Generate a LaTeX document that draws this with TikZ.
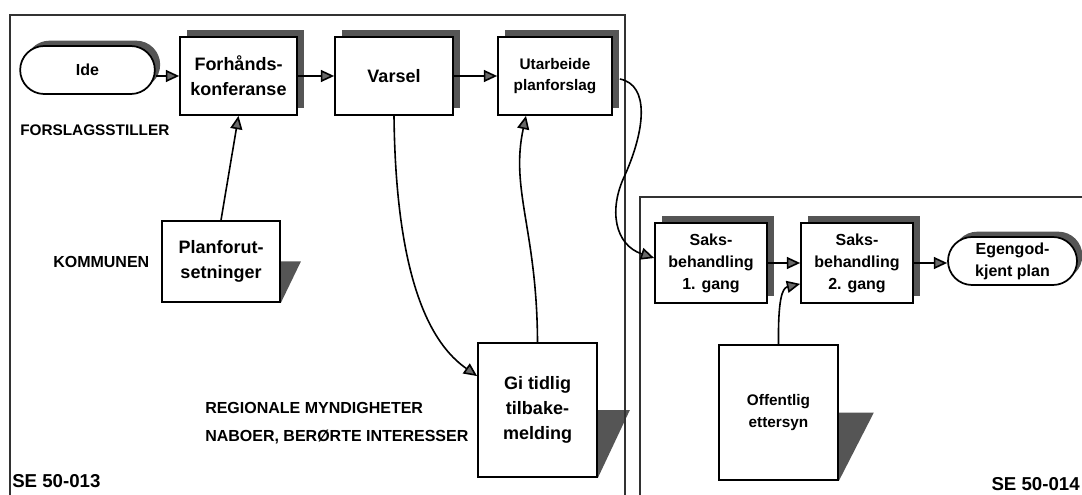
\documentclass[tikz,border=0pt]{standalone}
\usepackage{fontspec}
\setmainfont{Liberation Sans}
\usetikzlibrary{calc,shapes.misc,shadows,arrows.meta,backgrounds}
\definecolor{Shade}{RGB}{85,85,85}
\definecolor{TipGray}{RGB}{105,105,105}
\definecolor{Frame}{RGB}{50,50,50}
\newcommand{\bigtxt}{\fontsize{13.5}{18.5}\selectfont}
\newcommand{\midtxt}{\fontsize{12}{16.5}\selectfont}
\newcommand{\smalltxt}{\fontsize{11.5}{16}\selectfont}

\begin{document}
\begin{tikzpicture}[x=0.75pt,y=-0.75pt]
	\tikzstyle{every node}=[font=\bfseries, align=center, inner sep=0pt]
	\tikzstyle{procbox}=[draw, line width=1.3pt, fill=white, shape=rectangle, general shadow={fill=Shade, shadow xshift=5pt, shadow yshift=5pt}]
	\tikzstyle{docbox}=[draw, line width=1.3pt, fill=white, shape=rectangle]
	\tikzstyle{termbox}=[draw, line width=1.3pt, fill=white, shape=rounded rectangle, general shadow={fill=Shade, shadow xshift=4pt, shadow yshift=4pt}]
	\tikzstyle{fold}=[fill=Shade]
	\tikzstyle{flow}=[line width=1.2pt, -{Triangle[length=10pt, width=9pt, fill=TipGray]}]
	\tikzstyle{rolename}=[anchor=west, font=\bfseries\midtxt]
	\useasboundingbox (0,0) rectangle (1082,495);
	% frames
	\draw[Frame, line width=0.8pt] (10,15) rectangle (625,505);
	\draw[Frame, line width=0.8pt] (640,197) rectangle (1095,505);
	% forslagsstiller
	\node[termbox, minimum width=101pt, minimum height=36pt, font=\bfseries\midtxt] (ide) at (87.5,70) {Ide};
	\node[procbox, minimum width=87.75pt, minimum height=58.5pt, font=\bfseries\bigtxt] (forh) at (238.5,76) {Forhånds-\\konferanse};
	\node[procbox, minimum width=88.5pt, minimum height=58.5pt, font=\bfseries\bigtxt] (varsel) at (394,76) {Varsel};
	\node[procbox, minimum width=85.5pt, minimum height=58.5pt, font=\bfseries\smalltxt] (utarb) at (555,76) {Utarbeide\\planforslag};
	\node[docbox, minimum width=88.5pt, minimum height=60.75pt, font=\bfseries\bigtxt] (pf) at (221,261.5) {Planforut-\\setninger};
	\node[docbox, minimum width=89.25pt, minimum height=100.5pt, font=\bfseries\bigtxt] (gi) at (537.5,410) {Gi tidlig\\tilbake-\\melding};
	% kommunen
	\node[procbox, minimum width=84pt, minimum height=60pt, font=\bfseries\midtxt] (saks1) at (711,263) {Saks-\\behandling\\1. gang};
	\node[procbox, minimum width=84pt, minimum height=60pt, font=\bfseries\midtxt] (saks2) at (857,263) {Saks-\\behandling\\2. gang};
	\node[termbox, minimum width=96.75pt, minimum height=36pt, font=\bfseries\midtxt] (egen) at (1012.5,261) {Egengod-\\kjent plan};
	\node[docbox, minimum width=89.25pt, minimum height=101.25pt, font=\bfseries\smalltxt] (off) at (778.5,412.5) {Offentlig\\ettersyn};
	\begin{scope}[on background layer]
		\fill[fold] (pf.east) -- ++(20,0) -- (pf.south east) -- cycle;
		\fill[fold] (gi.east) -- ++(32,0) -- (gi.south east) -- cycle;
		\fill[fold] (off.east) -- ++(35,0) -- (off.south east) -- cycle;
	\end{scope}
	% roles
	\node[rolename, font=\bfseries\smalltxt] (forslag) at (20,130) {FORSLAGSSTILLER};
	\node[rolename] (kommune) at (53,262) {KOMMUNEN};
	\node[rolename] (region) at (205,408) {REGIONALE MYNDIGHETER};
	\node[rolename] (naboer) at (205,437) {NABOER, BERØRTE INTERESSER};
	\node[anchor=west, font=\bfseries\fontsize{14}{16}\selectfont] (se13) at (12,481) {SE 50-013};
	\node[anchor=east, font=\bfseries\fontsize{14}{16}\selectfont] (se14) at (1080,484) {SE 50-014};
	% flow
	\draw[flow] (ide.east |- forh.west) -- (forh.west);
	\draw[flow] (forh) -- (varsel);
	\draw[flow] (varsel) -- (utarb);
	\draw[flow] (pf.north) -- (forh.south);
	\draw[flow] (varsel.south) .. controls (396,300) and (440,350) .. ($(gi.north west)!0.25!(gi.south west)$);
	\draw[flow] (gi.north) .. controls (537,230) and (510,190) .. ($(utarb.south)+(-29,0)$);
	\draw[flow] ($(utarb.east)+(7,3)$) .. controls (650,85) and (645,130) .. (625,175) .. controls (608,210) and (615,245) .. ($(saks1.west)+(0,-5)$);
	\draw[flow] (saks1) -- (saks2);
	\draw[flow] (saks2.east) -- (saks2.east -| egen.west);
	\draw[flow] (off.north) .. controls (778,300) and (782,288) .. ($(saks2.south west)+(0,-20)$);
\end{tikzpicture}
\end{document}
